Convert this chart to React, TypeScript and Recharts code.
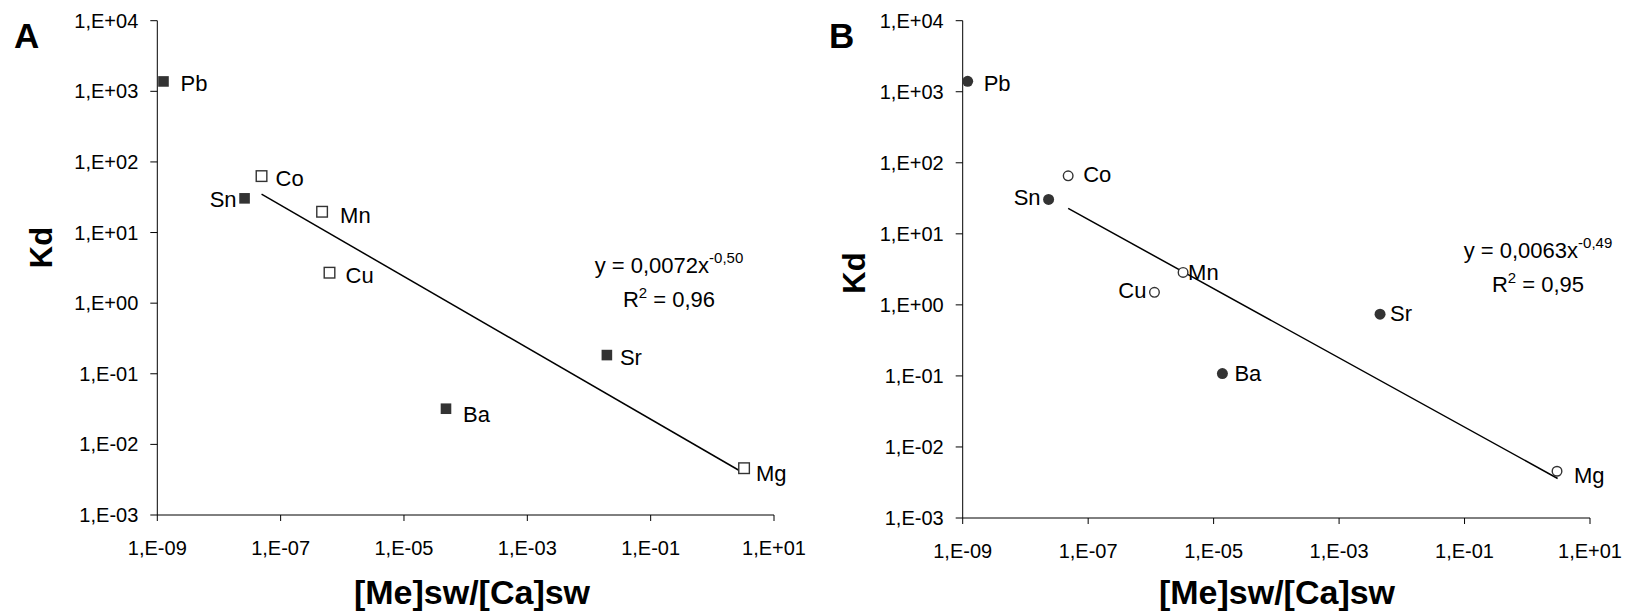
import { Scatter, ScatterChart, XAxis, YAxis } from 'recharts';

const FONT = '"Liberation Sans", Arial, sans-serif';
const MARK = '#333333';

// axis ticks
const xTicks = [1e-9, 1e-7, 1e-5, 1e-3, 1e-1, 1e1];
const xTickLabels = ['1,E-09', '1,E-07', '1,E-05', '1,E-03', '1,E-01', '1,E+01'];
const yTicks = [1e-3, 1e-2, 1e-1, 1e0, 1e1, 1e2, 1e3, 1e4];
const yTickLabels = ['1,E-03', '1,E-02', '1,E-01', '1,E+00', '1,E+01', '1,E+02', '1,E+03', '1,E+04'];

// panel A (squares)
const filledNamesA = ['Pb', 'Sn', 'Ba', 'Sr'];
const filledXA = [1.26e-9, 2.6e-8, 4.8e-5, 0.0195];
const filledYA = [1380, 30.5, 0.032, 0.184];
const openNamesA = ['Co', 'Mn', 'Cu', 'Mg'];
const openXA = [4.9e-8, 4.7e-7, 6.2e-7, 3.27];
const openYA = [63, 19.7, 2.7, 0.0046];
const trendXA = [4.9e-8, 2.96];
const trendYA = [35, 0.0041];

// panel B (circles)
const filledNamesB = ['Pb', 'Sn', 'Ba', 'Sr'];
const filledXB = [1.2e-9, 2.34e-8, 1.38e-5, 0.0045];
const filledYB = [1400, 30.5, 0.108, 0.74];
const openNamesB = ['Co', 'Mn', 'Cu', 'Mg'];
const openXB = [4.8e-8, 3.26e-6, 1.14e-6, 2.98];
const openYB = [65.6, 2.86, 1.5, 0.00455];
const trendXB = [4.8e-8, 3.05];
const trendYB = [22.8, 0.0036];

// label placement (dx, dy of text baseline relative to marker centre)
const labelPosA: Record<string, [number, number]> = {
  Pb: [17, 10], Sn: [-8, 9], Co: [14, 10], Mn: [18, 11],
  Cu: [16, 10], Sr: [13, 10], Ba: [17, 13], Mg: [12, 13],
};
const labelPosB: Record<string, [number, number]> = {
  Pb: [16, 10], Sn: [-8, 6], Co: [15, 6], Mn: [5, 8],
  Cu: [-8, 6], Sr: [10, 7], Ba: [12, 7], Mg: [17, 12],
};

const rows = (xs: number[], ys: number[], names?: string[]) =>
  xs.map((x, i) => ({ x, y: ys[i], name: names ? names[i] : '' }));

const pointLabel = (p: any, pos: Record<string, [number, number]>) => {
  const name = p.payload?.name ?? '';
  const [dx, dy] = pos[name] ?? [15, 10];
  return (
    <text
      x={p.cx + dx}
      y={p.cy + dy}
      textAnchor={dx < 0 ? 'end' : 'start'}
      fontSize={22}
      fontFamily={FONT}
      fill="#000"
    >
      {name}
    </text>
  );
};

const makeShape = (kind: 'square' | 'circle', filled: boolean, pos: Record<string, [number, number]>) =>
  (p: any) => {
    const fill = filled ? MARK : '#fff';
    const sw = filled ? 0 : 1.4;
    return (
      <g>
        {kind === 'square' ? (
          <rect x={p.cx - 5.3} y={p.cy - 5.3} width={10.6} height={10.6} fill={fill} stroke={MARK} strokeWidth={sw} />
        ) : (
          <circle cx={p.cx} cy={p.cy} r={filled ? 5.5 : 4.8} fill={fill} stroke={MARK} strokeWidth={sw} />
        )}
        {pointLabel(p, pos)}
      </g>
    );
  };

const tickStyle = { fontSize: 20, fontFamily: FONT, fill: '#000' };

type PanelProps = {
  kind: 'square' | 'circle';
  filled: { x: number; y: number; name: string }[];
  open: { x: number; y: number; name: string }[];
  trend: { x: number; y: number; name: string }[];
  pos: Record<string, [number, number]>;
  yAxisWidth: number;
  right: number;
  xAxisHeight: number;
};

function Panel({ kind, filled, open, trend, pos, yAxisWidth, right, xAxisHeight }: PanelProps) {
  return (
    <ScatterChart width={815} height={616} margin={{ top: 20.7, right, bottom: 0, left: 0 }}>
      <XAxis
        type="number"
        dataKey="x"
        scale="log"
        domain={[1e-9, 1e1]}
        ticks={xTicks}
        interval={0}
        height={xAxisHeight}
        tickSize={6}
        tickMargin={20}
        tick={tickStyle}
        tickFormatter={(v: number) => xTickLabels[xTicks.indexOf(v)] ?? ''}
        axisLine={{ stroke: '#000' }}
        tickLine={{ stroke: '#000' }}
      />
      <YAxis
        type="number"
        dataKey="y"
        scale="log"
        domain={[1e-3, 1e4]}
        ticks={yTicks}
        interval={0}
        width={yAxisWidth}
        tickSize={7}
        tickMargin={12}
        tick={tickStyle}
        tickFormatter={(v: number) => yTickLabels[yTicks.indexOf(v)] ?? ''}
        axisLine={{ stroke: '#000' }}
        tickLine={{ stroke: '#000' }}
      />
      <Scatter
        data={trend}
        line={{ stroke: '#000', strokeWidth: 1.5 }}
        shape={() => <g />}
        isAnimationActive={false}
      />
      <Scatter data={filled} shape={makeShape(kind, true, pos)} isAnimationActive={false} />
      <Scatter data={open} shape={makeShape(kind, false, pos)} isAnimationActive={false} />
    </ScatterChart>
  );
}

export default function App() {
  const title = { fontFamily: FONT, fontWeight: 700, fill: '#000' } as const;
  const eq = { fontFamily: FONT, fontSize: 22, fill: '#000', textAnchor: 'middle' } as const;
  return (
    <div style={{ position: 'absolute', left: 0, top: 0, width: 1630, height: 616, background: '#fff' }}>
      <div style={{ position: 'absolute', left: 0, top: 0 }}>
        <Panel
          kind="square"
          filled={rows(filledXA, filledYA, filledNamesA)}
          open={rows(openXA, openYA, openNamesA)}
          trend={rows(trendXA, trendYA)}
          pos={labelPosA}
          yAxisWidth={157.3}
          right={41}
          xAxisHeight={101}
        />
      </div>
      <div style={{ position: 'absolute', left: 815, top: 0 }}>
        <Panel
          kind="circle"
          filled={rows(filledXB, filledYB, filledNamesB)}
          open={rows(openXB, openYB, openNamesB)}
          trend={rows(trendXB, trendYB)}
          pos={labelPosB}
          yAxisWidth={147.7}
          right={40}
          xAxisHeight={98}
        />
      </div>
      <svg width={1630} height={616} style={{ position: 'absolute', left: 0, top: 0, pointerEvents: 'none' }}>
        <text x={14} y={48} fontSize={35} {...title}>A</text>
        <text x={829} y={48} fontSize={35} {...title}>B</text>

        <text x={41.5} y={247.5} fontSize={31} {...title} textAnchor="middle" dominantBaseline="central" transform="rotate(-90 41.5 247.5)">Kd</text>
        <text x={854} y={273} fontSize={31} {...title} textAnchor="middle" dominantBaseline="central" transform="rotate(-90 854 273)">Kd</text>

        <text x={472} y={604} fontSize={34} {...title} textAnchor="middle">[Me]sw/[Ca]sw</text>
        <text x={1277} y={604} fontSize={34} {...title} textAnchor="middle">[Me]sw/[Ca]sw</text>

        <text x={669} y={273} {...eq}>y = 0,0072x<tspan dy={-10} fontSize={15}>-0,50</tspan></text>
        <text x={669} y={307} {...eq}>R<tspan dy={-9} fontSize={15}>2</tspan><tspan dy={9}> = 0,96</tspan></text>
        <text x={1538} y={258} {...eq}>y = 0,0063x<tspan dy={-10} fontSize={15}>-0,49</tspan></text>
        <text x={1538} y={292} {...eq}>R<tspan dy={-9} fontSize={15}>2</tspan><tspan dy={9}> = 0,95</tspan></text>
      </svg>
    </div>
  );
}
